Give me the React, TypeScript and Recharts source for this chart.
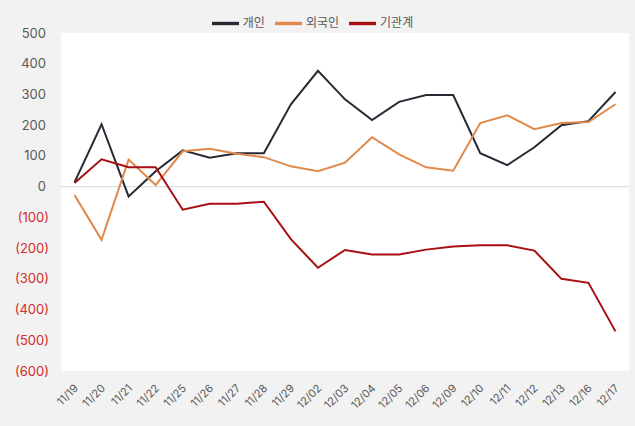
import { CartesianGrid, Legend, Line, LineChart, ReferenceLine, XAxis, YAxis } from "recharts";

const dates = [
  "11/19", "11/20", "11/21", "11/22", "11/25", "11/26", "11/27", "11/28", "11/29", "12/02", "12/03",
  "12/04", "12/05", "12/06", "12/09", "12/10", "12/11", "12/12", "12/13", "12/16", "12/17",
];
const individual = [14, 203, -32, 50, 118, 94, 109, 109, 268, 377, 284, 217, 276, 298, 298, 109, 70, 128, 200, 213, 308];
const foreign = [-27, -173, 88, 5, 115, 123, 107, 96, 66, 50, 78, 161, 105, 63, 52, 207, 232, 187, 207, 210, 268];
const institution = [12, 89, 63, 63, -75, -56, -56, -49, -171, -264, -206, -221, -221, -205, -195, -191, -191, -208, -300, -313, -471];
const yTicks = [500, 400, 300, 200, 100, 0, -100, -200, -300, -400, -500, -600];
const legendOrder = ["개인", "외국인", "기관계"];

const data = dates.map((d, i) => ({
  date: d,
  individual: individual[i],
  foreign: foreign[i],
  institution: institution[i],
}));

const FONT = "Inter, 'Noto Sans CJK KR', sans-serif";

function YTick(props: any) {
  const { x, y, payload } = props;
  const v = Number(payload.value);
  const neg = v < 0;
  return (
    <text
      x={x}
      y={y}
      dx={neg ? -4 : -7}
      dy={4.5}
      textAnchor="end"
      fontSize={13}
      fontFamily={FONT}
      fill={neg ? "#d42a2a" : "#595959"}
    >
      {neg ? `(${Math.abs(v)})` : v}
    </text>
  );
}

function XTick(props: any) {
  const { x, y, payload } = props;
  return (
    <g transform={`translate(${x},${y})`}>
      <text
        x={-4}
        y={10}
        transform="rotate(-45)"
        textAnchor="end"
        fontSize={11}
        fontFamily={FONT}
        fill="#595959"
      >
        {payload.value}
      </text>
    </g>
  );
}

export default function App() {
  return (
    <div style={{ position: "absolute", left: 0, top: 0, width: 635, height: 426, background: "#f2f2f2" }}>
      <LineChart width={635} height={426} data={data} margin={{ top: 6, right: 6, bottom: 0, left: 0 }}>
        <CartesianGrid horizontal={false} vertical={false} fill="#ffffff" stroke="none" />
        <XAxis
          dataKey="date"
          axisLine={false}
          tickLine={false}
          interval={0}
          height={55}
          padding={{ left: 13.5, right: 13.5 }}
          tick={<XTick />}
        />
        <YAxis
          domain={[-600, 500]}
          ticks={yTicks}
          interval={0}
          axisLine={false}
          tickLine={false}
          width={61}
          tick={<YTick />}
        />
        <ReferenceLine y={0} stroke="#d9d9d9" strokeWidth={1} />
        <Legend
          verticalAlign="top"
          iconType="plainline"
          iconSize={27}
          itemSorter={(item: any) => legendOrder.indexOf(item.value)}
          wrapperStyle={{ top: 10, left: 0, width: 635, fontFamily: FONT, fontSize: 12 }}
          formatter={(value) => <span style={{ color: "#595959" }}>{value}</span>}
        />
        <Line dataKey="individual" name="개인" stroke="#252a33" strokeWidth={2} dot={false} isAnimationActive={false} />
        <Line dataKey="foreign" name="외국인" stroke="#e0894a" strokeWidth={2} dot={false} isAnimationActive={false} />
        <Line dataKey="institution" name="기관계" stroke="#a80f12" strokeWidth={2} dot={false} isAnimationActive={false} />
      </LineChart>
    </div>
  );
}
